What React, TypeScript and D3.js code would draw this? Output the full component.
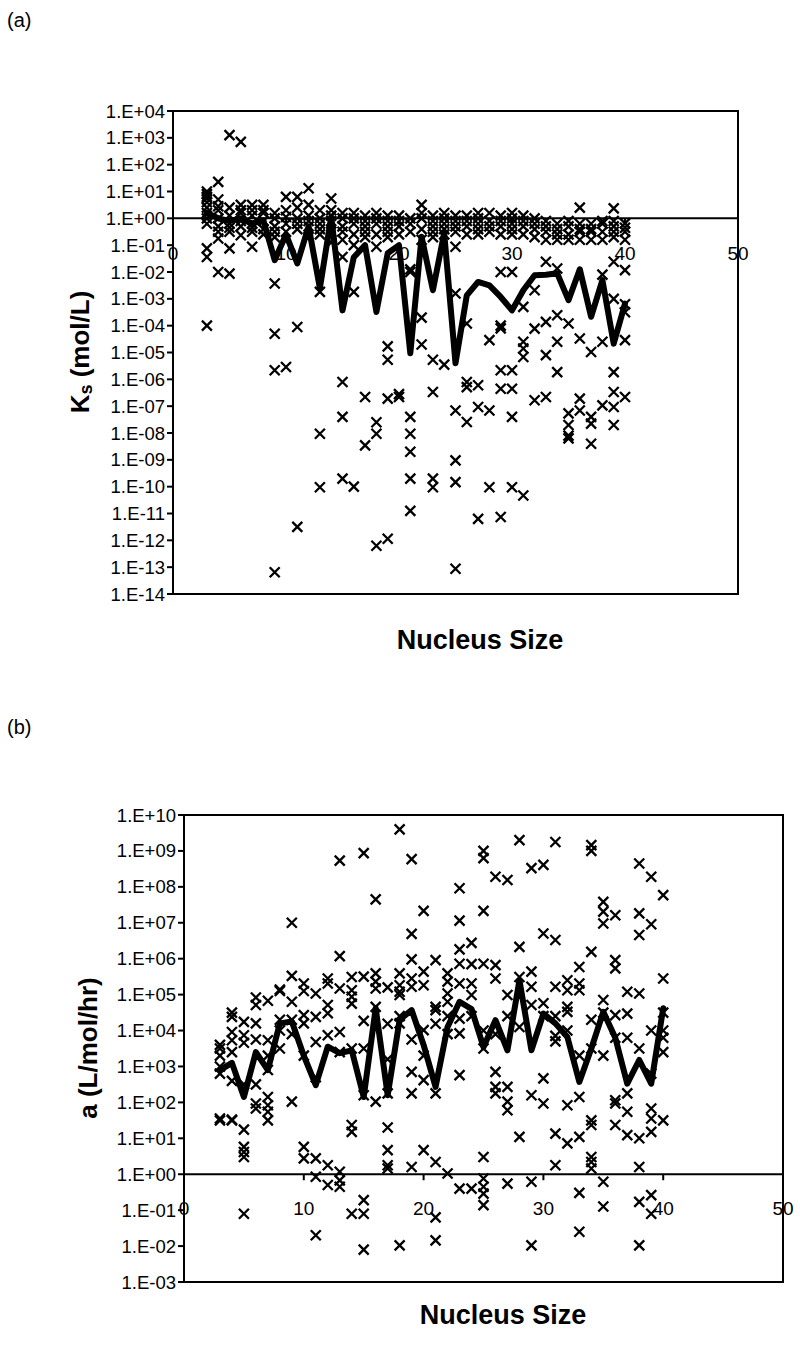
import React from 'react';
import * as d3 from 'd3';

// Nucleus sizes (x categories)
const nucleusSize = [3, 4, 5, 6, 7, 8, 9, 10, 11, 12, 13, 14, 15, 16, 17, 18, 19, 20, 21, 22, 23, 24, 25, 26, 27, 28, 29, 30, 31, 32, 33, 34, 35, 36, 37, 38, 39, 40];
const xTickValues = [0, 10, 20, 30, 40, 50];

// Panel (a): log10 of Ks estimates, one list per nucleus size
const ksScatterLog: number[][] = [
  [1.0, 0.9, 0.8, 0.75, 0.6, 0.4, 0.2, 0.0, -0.2, -1.12, -1.44, -4.0],
  [1.36, 0.7, 0.45, 0.3, 0.0, -0.3, -0.5, -0.75, -2.0],
  [3.1, 0.4, 0.1, -0.2, -0.35, -0.5, -1.12, -2.06],
  [2.85, 0.5, 0.3, 0.2, -0.1, -0.3, -0.63],
  [0.5, 0.3, 0.1, -0.2, -0.35, -0.5, -1.06],
  [0.5, 0.3, 0.2, -0.1, -0.4, -0.6],
  [0.2, 0.0, -0.3, -0.5, -0.7, -2.43, -4.3, -5.66, -13.19],
  [0.8, 0.3, 0.05, -0.2, -0.5, -5.54],
  [0.8, 0.4, 0.0, -0.2, -0.4, -4.05, -11.5],
  [1.12, 0.5, 0.1, -0.1, -0.3, -0.7],
  [0.3, 0.0, -0.2, -0.4, -0.6, -2.74, -8.03, -10.02],
  [0.74, 0.3, 0.1, -0.1, -0.5, -0.9],
  [0.2, 0.0, -0.3, -0.5, -0.8, -1.44, -6.1, -7.4, -9.7],
  [0.2, 0.0, -0.2, -0.6, -1.0, -2.74, -10.0],
  [0.1, -0.1, -0.3, -0.5, -0.7, -6.66, -8.46],
  [0.2, 0.0, -0.2, -0.6, -1.06, -7.6, -8.03, -12.2],
  [0.1, -0.1, -0.3, -0.5, -0.7, -4.77, -5.27, -6.72, -11.94],
  [0.1, -0.1, -0.3, -0.6, -6.66, -6.55],
  [0.0, -0.2, -0.5, -1.9, -2.0, -7.4, -8.03, -8.7, -9.7, -10.9],
  [0.5, 0.2, 0.0, -0.4, -0.8, -3.7, -4.7],
  [0.1, -0.1, -0.3, -0.5, -0.7, -5.27, -6.47, -9.7, -10.02],
  [0.2, 0.0, -0.2, -0.4, -0.6, -5.45],
  [0.1, -0.1, -0.3, -0.5, -1.06, -2.8, -7.16, -9.02, -9.83, -13.06],
  [0.1, -0.1, -0.3, -0.6, -3.92, -6.1, -6.29, -7.59],
  [0.2, 0.0, -0.2, -0.4, -0.6, -6.22, -7.03, -11.2],
  [0.2, -0.1, -0.3, -0.5, -4.54, -7.16, -10.02],
  [0.1, -0.1, -0.3, -0.6, -2.0, -4.0, -4.1, -5.66, -6.35, -11.13],
  [0.2, 0.0, -0.2, -0.4, -0.6, -2.0, -5.66, -6.35, -7.4, -10.02],
  [0.1, -0.1, -0.3, -0.6, -3.3, -4.6, -4.85, -5.17, -10.33],
  [0.0, -0.2, -0.4, -0.7, -2.68, -4.11, -6.78],
  [-0.1, -0.3, -0.5, -0.8, -1.62, -3.86, -5.1, -6.66],
  [-0.2, -0.4, -0.6, -0.8, -1.87, -3.61, -4.6, -5.73],
  [-0.1, -0.3, -0.6, -0.8, -3.92, -7.27, -7.7, -8.1, -8.2],
  [0.4, -0.2, -0.4, -0.5, -0.8, -4.48, -6.72, -7.16],
  [-0.2, -0.4, -0.5, -0.8, -4.98, -7.4, -7.65, -8.4],
  [-0.1, -0.2, -0.5, -0.8, -2.1, -4.6, -6.97],
  [0.37, -0.1, -0.3, -0.5, -0.7, -1.62, -3.0, -5.73, -6.47, -7.03, -7.7],
  [-0.19, -0.35, -0.5, -0.8, -1.93, -3.2, -3.5, -4.54, -6.66],
];
const ksLineLog = [0.2, 0.0, -0.1, 0.0, -0.2, -0.07, -1.56, -0.6, -1.68, -0.3, -2.6, 0.06, -3.43, -1.45, -1.0, -3.49, -1.3, -1.0, -5.03, -0.69, -2.68, -0.55, -5.4, -2.87, -2.37, -2.5, -2.93, -3.43, -2.68, -2.12, -2.1, -2.05, -3.05, -1.9, -3.67, -2.3, -4.67, -3.18];
const ksTickExp = [4, 3, 2, 1, 0, -1, -2, -3, -4, -5, -6, -7, -8, -9, -10, -11, -12, -13, -14];

// Panel (b): log10 of a estimates, one list per nucleus size
const aScatterLog: number[][] = [
  [3.6, 3.5, 3.3, 3.0, 2.8, 1.55, 1.5],
  [4.5, 4.38, 3.96, 3.73, 3.4, 2.6, 1.52, 1.5],
  [4.24, 3.87, 3.66, 2.5, 1.24, 0.76, 0.62, 0.48, -1.1],
  [4.92, 4.71, 4.2, 3.75, 2.5, 1.97, 1.83],
  [4.83, 3.73, 3.3, 2.9, 2.15, 1.92, 1.74, 1.5],
  [5.14, 5.1, 4.3, 4.0, 3.5],
  [7.0, 5.52, 4.8, 4.3, 3.9, 2.02],
  [5.31, 5.1, 4.43, 4.2, 3.3, 0.76, 0.44],
  [5.03, 4.38, 3.68, 2.7, 0.44, -0.07, -1.7],
  [5.45, 5.31, 4.71, 4.48, 3.87, 0.25, -0.3],
  [8.73, 6.07, 5.17, 3.96, 3.4, 0.07, -0.17, -0.35],
  [5.49, 5.12, 4.94, 4.75, 3.5, 1.37, 1.18, -1.1],
  [8.94, 5.5, 4.27, 3.5, 2.2, -0.72, -1.1, -2.1],
  [7.65, 5.59, 5.36, 5.17, 4.66, 2.02],
  [5.2, 4.19, 3.2, 2.25, 1.3, 0.67, 0.25, 0.16],
  [9.6, 5.59, 5.26, 5.08, 4.99, 4.4, 4.2, -1.98],
  [8.77, 6.69, 5.98, 5.45, 5.22, 3.75, 2.85, 2.25, 0.2],
  [7.33, 5.64, 5.26, 4.01, 3.3, 2.62, 0.67],
  [5.96, 4.66, 4.57, 4.19, 2.25, 0.34, -1.2, -1.84],
  [5.59, 5.36, 5.03, 4.8, 4.4, 3.9, 0.02],
  [7.96, 7.06, 6.26, 5.86, 5.31, 4.33, 3.92, 2.76, -0.4],
  [6.44, 5.85, 5.31, 4.99, 4.4, -0.4],
  [9.0, 8.8, 7.33, 5.86, 4.0, 3.5, 0.48, -0.12, -0.35, -0.54, -0.86],
  [8.28, 5.82, 5.45, 3.9, 2.85, 2.43, 2.25],
  [8.19, 4.99, 4.4, 2.43, 2.02, 1.78, -0.26],
  [9.3, 6.33, 5.49, 4.1, 1.04],
  [8.52, 5.64, 5.22, 4.71, 2.2, -0.21, -1.98],
  [8.61, 6.7, 4.76, 4.4, 2.67, 1.97],
  [9.25, 6.52, 5.22, 4.4, 3.85, 3.7, 1.13, 0.25],
  [5.4, 5.12, 4.66, 4.52, 4.0, 1.92, 0.86],
  [5.77, 5.31, 5.12, 3.3, 2.15, 1.04, -0.52, -1.6],
  [9.16, 9.0, 6.19, 4.3, 3.5, 1.5, 1.37, 0.48, 0.34, 0.16],
  [7.58, 7.31, 6.98, 4.85, 4.5, 3.3, -0.21, -0.9],
  [7.21, 5.96, 5.73, 4.43, 3.8, 2.06, 1.97, 1.37],
  [5.08, 4.47, 3.8, 2.25, 1.74, 1.09],
  [8.65, 7.26, 6.66, 5.03, 3.5, 1.0, 0.2, -0.77, -1.98],
  [8.28, 6.96, 4.0, 2.8, 1.83, 1.55, 1.18, -0.58, -1.1],
  [7.77, 5.45, 4.5, 4.0, 3.8, 3.4, 1.5],
];
const aLineLog = [2.9, 3.1, 2.15, 3.4, 2.9, 4.2, 4.25, 3.3, 2.48, 3.55, 3.37, 3.45, 2.15, 4.62, 2.2, 4.3, 4.57, 3.6, 2.43, 4.1, 4.8, 4.6, 3.54, 4.29, 3.45, 5.4, 3.45, 4.47, 4.2, 3.82, 2.57, 3.5, 4.52, 3.8, 2.52, 3.18, 2.52, 4.62];
const aTickExp = [10, 9, 8, 7, 6, 5, 4, 3, 2, 1, 0, -1, -2, -3];

const FONT = "'Liberation Sans', Arial, Helvetica, sans-serif";

function fmtTick(e: number): string {
  const s = String(Math.abs(e)).padStart(2, '0');
  return '1.E' + (e < 0 ? '-' : '+') + s;
}

type PanelProps = {
  left: number; right: number; top: number; bottom: number;
  tickExp: number[];
  scatter: number[][];
  line: number[];
  xLabelOffset: number;
  yTitle: React.ReactNode;
  yTitleX: number;
  yTitleY: number;
  xTitleX: number;
  xTitleY: number;
  tag: string;
  tagY: number;
};

function Panel(p: PanelProps) {
  const x = d3.scaleLinear().domain([0, 50]).range([p.left, p.right]);
  const expMin = d3.min(p.tickExp) as number;
  const expMax = d3.max(p.tickExp) as number;
  const y = d3.scaleLog().domain([Math.pow(10, expMin), Math.pow(10, expMax)]).range([p.bottom, p.top]);
  const yCross = y(1);
  const pts: [number, number][] = [];
  nucleusSize.forEach((s, i) => p.scatter[i].forEach((e) => pts.push([s, e])));
  const lineGen = d3.line<number>().x((_, i) => x(nucleusSize[i])).y((e) => y(Math.pow(10, e)));
  const r = 5;
  return (
    <g>
      <text x={7} y={p.tagY} fontSize={20} fontFamily={FONT} dominantBaseline="central">{p.tag}</text>
      {/* frame */}
      <rect x={p.left} y={p.top} width={p.right - p.left} height={p.bottom - p.top} fill="none" stroke="#000" strokeWidth={2} />
      {/* y ticks + labels */}
      {p.tickExp.map((e) => {
        const yy = y(Math.pow(10, e));
        return (
          <g key={'y' + e}>
            <line x1={p.left - 6} x2={p.left} y1={yy} y2={yy} stroke="#000" strokeWidth={2} />
            <text x={p.left - 8} y={yy} textAnchor="end" dominantBaseline="central" fontSize={18.5} fontFamily={FONT}>{fmtTick(e)}</text>
          </g>
        );
      })}
      {/* x labels */}
      {xTickValues.map((v) => (
        <g key={'x' + v}>
          <line x1={x(v)} x2={x(v)} y1={yCross} y2={yCross + 6} stroke="#000" strokeWidth={2} />
          <text x={x(v)} y={yCross + p.xLabelOffset} textAnchor="middle" dominantBaseline="central" fontSize={19} fontFamily={FONT}>{v}</text>
        </g>
      ))}
      {/* x axis crossing at 1 */}
      <line x1={p.left} x2={p.right} y1={yCross} y2={yCross} stroke="#000" strokeWidth={2} />
      {/* scatter markers */}
      {pts.map(([s, e], i) => {
        const cx = x(s);
        const cy = y(Math.pow(10, e));
        return (
          <path key={'m' + i} d={`M${cx - r},${cy - r}L${cx + r},${cy + r}M${cx - r},${cy + r}L${cx + r},${cy - r}`} stroke="#000" strokeWidth={2.3} fill="none" />
        );
      })}
      {/* line */}
      <path d={lineGen(p.line) || ''} fill="none" stroke="#000" strokeWidth={6} strokeLinejoin="round" strokeLinecap="round" />
      {/* titles */}
      <text transform={`translate(${p.yTitleX},${p.yTitleY}) rotate(-90)`} textAnchor="middle" dominantBaseline="central" fontSize={26} fontWeight="bold" fontFamily={FONT}>{p.yTitle}</text>
      <text x={p.xTitleX} y={p.xTitleY} textAnchor="middle" dominantBaseline="central" fontSize={27} fontWeight="bold" fontFamily={FONT}>Nucleus Size</text>
    </g>
  );
}

export default function App() {
  return (
    <svg width={800} height={1347} viewBox="0 0 800 1347" style={{ position: 'absolute', left: 0, top: 0, background: '#fff' }}>
      <rect x={0} y={0} width={800} height={1347} fill="#fff" />
      <Panel
        left={173} right={738} top={111} bottom={594}
        tickExp={ksTickExp} scatter={ksScatterLog} line={ksLineLog}
        xLabelOffset={35}
        yTitle={<><tspan>K</tspan><tspan fontSize={18} dy={6}>s</tspan><tspan dy={-6}> (mol/L)</tspan></>}
        yTitleX={80} yTitleY={352}
        xTitleX={480} xTitleY={640}
        tag="(a)" tagY={20}
      />
      <Panel
        left={184} right={783} top={815} bottom={1282}
        tickExp={aTickExp} scatter={aScatterLog} line={aLineLog}
        xLabelOffset={34}
        yTitle="a (L/mol/hr)"
        yTitleX={88} yTitleY={1048}
        xTitleX={503} xTitleY={1315}
        tag="(b)" tagY={727}
      />
    </svg>
  );
}
